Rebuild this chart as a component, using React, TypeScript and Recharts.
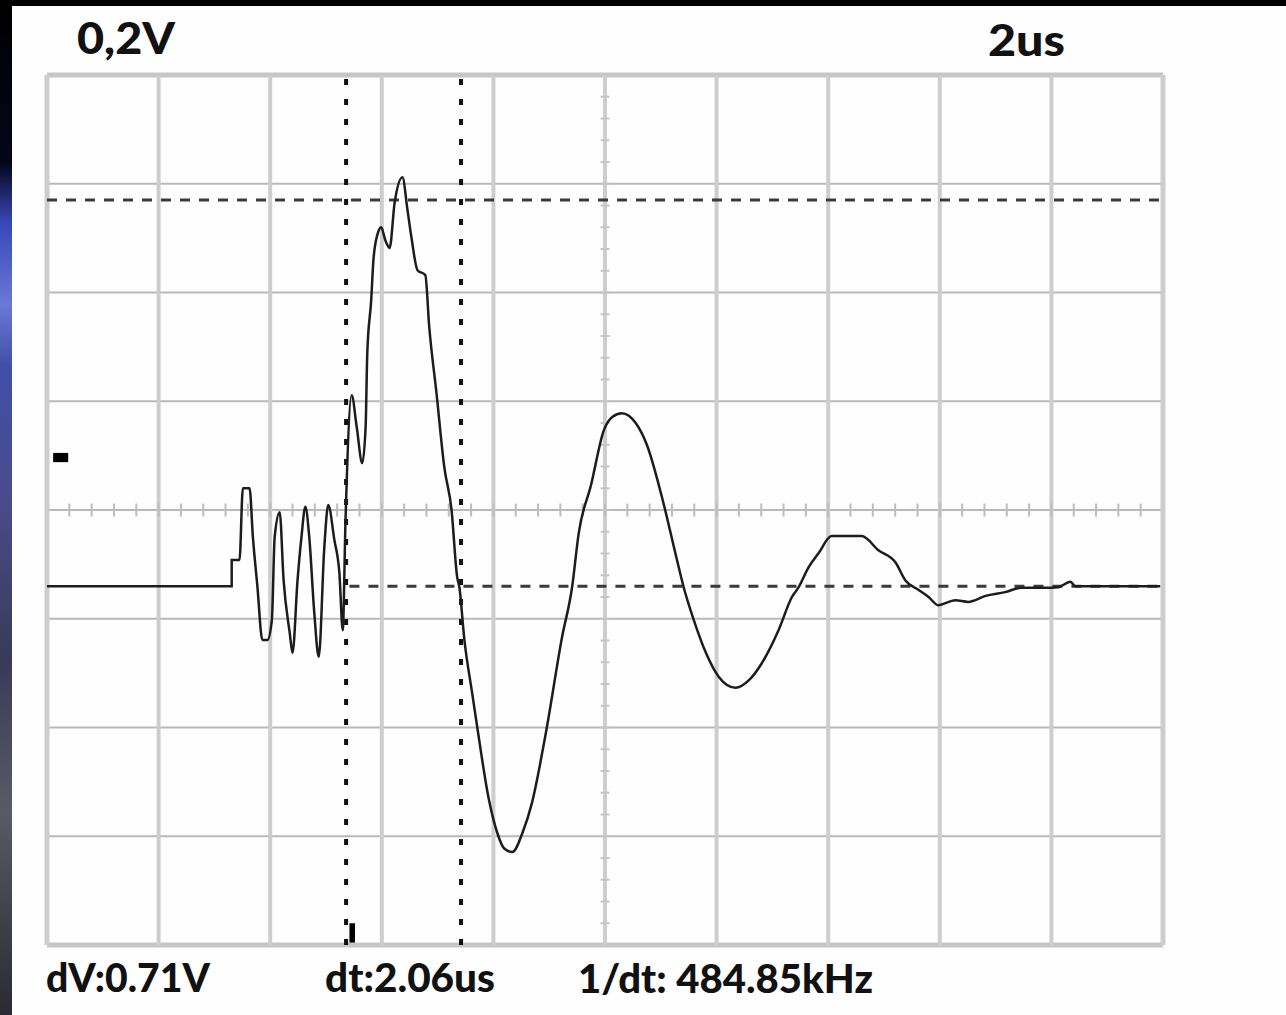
import React from "react";
import { LineChart, Line, XAxis, YAxis, ReferenceLine, ReferenceArea } from "recharts";

// Time in microseconds (2 us / division), voltage in volts (0.2 V / division, 0 = screen centre)
const TIME_US = [
  0, 3.31, 3.31, 3.45, 3.51, 3.63, 3.69, 3.77, 3.86, 3.95, 4.03, 4.08, 4.17, 4.24, 4.35, 4.4,
  4.49, 4.56, 4.63, 4.7, 4.79, 4.87, 4.97, 5.04, 5.15, 5.24, 5.3, 5.35, 5.46, 5.55, 5.65, 5.71,
  5.74, 5.81, 5.85, 5.92, 5.99, 6.06, 6.14, 6.23, 6.37, 6.46, 6.53, 6.64, 6.78, 6.85, 6.98, 7.12,
  7.25, 7.35, 7.39, 7.48, 7.62, 7.71, 7.92, 8.07, 8.19, 8.34, 8.52, 8.69, 8.94, 9.23, 9.41, 9.53,
  9.75, 9.98, 10.13, 10.3, 10.55, 10.75, 11.02, 11.29, 11.41, 11.59, 11.81, 12.04, 12.34, 12.58,
  12.79, 13.11, 13.35, 13.47, 13.65, 13.83, 14.06, 14.6, 14.9, 15.21, 15.38, 15.62, 15.8, 15.97,
  16.28, 16.51, 16.82, 17.17, 17.46, 17.89, 18.12, 18.34, 18.43, 19.95,
];
const VOLTS = [
  -0.14, -0.14, -0.092, -0.092, 0.04, 0.04, -0.05, -0.14, -0.239, -0.239, -0.202, -0.05, -0.004,
  -0.129, -0.226, -0.263, -0.129, -0.05, 0.006, -0.05, -0.189, -0.27, -0.068, 0.009, -0.055, -0.116,
  -0.221, -0.018, 0.211, 0.153, 0.086, 0.153, 0.289, 0.386, 0.46, 0.506, 0.52, 0.497, 0.482, 0.565,
  0.612, 0.552, 0.502, 0.441, 0.432, 0.337, 0.215, 0.079, 0.0, -0.123, -0.142, -0.239, -0.337,
  -0.399, -0.533, -0.594, -0.622, -0.629, -0.594, -0.539, -0.41, -0.234, -0.142, -0.042, 0.046,
  0.147, 0.171, 0.178, 0.16, 0.12, 0.024, -0.092, -0.142, -0.202, -0.263, -0.307, -0.327, -0.313,
  -0.285, -0.221, -0.16, -0.142, -0.105, -0.079, -0.048, -0.048, -0.074, -0.097, -0.129, -0.147,
  -0.16, -0.175, -0.166, -0.169, -0.158, -0.151, -0.143, -0.143, -0.142, -0.132, -0.14, -0.14,
];

const X_DIVS = [0, 2, 4, 6, 8, 10, 12, 14, 16, 18, 20];
const Y_DIVS = [-0.8, -0.6, -0.4, -0.2, 0, 0.2, 0.4, 0.6, 0.8];
const X_MINOR = Array.from({ length: 49 }, (_, i) => +(0.4 * (i + 1)).toFixed(2));
const Y_MINOR = Array.from({ length: 39 }, (_, i) => +(-0.8 + 0.04 * (i + 1)).toFixed(3));

const CURSOR_T = [5.36, 7.42];
const CURSOR_V = [0.57, -0.14];

const SCALE_V = "0,2V";
const SCALE_T = "2us";
const READOUTS = ["dV:0.71V", "dt:2.06us", "1/dt: 484.85kHz"];

const data = TIME_US.map((t, i) => ({ t, v: VOLTS[i] }));

const W = 1286;
const H = 1015;

export default function App() {
  const font = "Lato, 'Open Sans', sans-serif";
  return (
    <div
      style={{
        position: "absolute",
        left: 0,
        top: 0,
        width: W,
        height: H,
        background: "#fefefe",
        overflow: "hidden",
      }}
    >
      <LineChart
        width={W}
        height={H}
        data={data}
        margin={{ top: 75, right: 123, bottom: 70, left: 47 }}
      >
        <XAxis dataKey="t" type="number" domain={[0, 20]} hide allowDataOverflow />
        <YAxis type="number" domain={[-0.8, 0.8]} hide allowDataOverflow width={0} />
        {Y_DIVS.map((y) => (
          <ReferenceLine
            key={"h" + y}
            y={y}
            stroke={y === -0.8 || y === 0.8 ? "#c6c6c6" : "#b9b9b9"}
            strokeWidth={y === -0.8 || y === 0.8 ? 5 : 2}
          />
        ))}
        {X_DIVS.map((x) => (
          <ReferenceLine
            key={"v" + x}
            x={x}
            stroke="#cdcdcd"
            strokeWidth={x === 0 || x === 20 ? 5 : 4}
          />
        ))}
        {X_MINOR.map((x) => (
          <ReferenceLine
            key={"xm" + x}
            segment={[
              { x, y: -0.012 },
              { x, y: 0.012 },
            ]}
            stroke="#bdbdbd"
            strokeWidth={2}
          />
        ))}
        {Y_MINOR.map((y) => (
          <ReferenceLine
            key={"ym" + y}
            segment={[
              { x: 9.92, y },
              { x: 10.08, y },
            ]}
            stroke="#c4c4c4"
            strokeWidth={2}
          />
        ))}
        <ReferenceLine y={CURSOR_V[0]} stroke="#3a3a3a" strokeWidth={3} strokeDasharray="10 9" />
        <ReferenceLine
          segment={[
            { x: 5.42, y: CURSOR_V[1] },
            { x: 20, y: CURSOR_V[1] },
          ]}
          stroke="#3a3a3a"
          strokeWidth={3}
          strokeDasharray="10 9"
        />
        {CURSOR_T.map((x) => (
          <ReferenceLine key={"c" + x} x={x} stroke="#111" strokeWidth={4} strokeDasharray="6 14" />
        ))}
        <ReferenceArea x1={0.11} x2={0.38} y1={0.088} y2={0.105} fill="#000" fillOpacity={1} stroke="none" />
        <ReferenceArea x1={5.42} x2={5.52} y1={-0.8} y2={-0.76} fill="#000" fillOpacity={1} stroke="none" />
        <Line
          dataKey="v"
          type="monotoneX"
          stroke="#1c1c1c"
          strokeWidth={2.5}
          dot={false}
          isAnimationActive={false}
        />
      </LineChart>
      <svg
        width={W}
        height={H}
        style={{ position: "absolute", left: 0, top: 0, pointerEvents: "none" }}
      >
        <defs>
          <linearGradient id="strip" x1="0" y1="0" x2="0" y2="1">
            <stop offset="0" stopColor="#000" />
            <stop offset="0.16" stopColor="#05051a" />
            <stop offset="0.22" stopColor="#3848b8" />
            <stop offset="0.3" stopColor="#6a78d8" />
            <stop offset="0.36" stopColor="#4050a8" />
            <stop offset="0.5" stopColor="#4a4a88" />
            <stop offset="0.65" stopColor="#3a3a58" />
            <stop offset="0.8" stopColor="#5a5a66" />
            <stop offset="1" stopColor="#2a2a30" />
          </linearGradient>
        </defs>
        <rect x={0} y={0} width={W} height={6} fill="#000" />
        <rect x={0} y={0} width={12} height={H} fill="url(#strip)" />
        <g fontFamily={font} fontWeight={900} fill="#111">
          <text x={77} y={54} fontSize={44} textLength={98} lengthAdjust="spacingAndGlyphs">
            {SCALE_V}
          </text>
          <text x={988} y={56} fontSize={44} textLength={77} lengthAdjust="spacingAndGlyphs">
            {SCALE_T}
          </text>
          <text x={46} y={992} fontSize={40} textLength={164} lengthAdjust="spacingAndGlyphs">
            {READOUTS[0]}
          </text>
          <text x={325} y={992} fontSize={40} textLength={170} lengthAdjust="spacingAndGlyphs">
            {READOUTS[1]}
          </text>
          <text x={578} y={993} fontSize={40} textLength={295} lengthAdjust="spacingAndGlyphs">
            {READOUTS[2]}
          </text>
        </g>
      </svg>
    </div>
  );
}
